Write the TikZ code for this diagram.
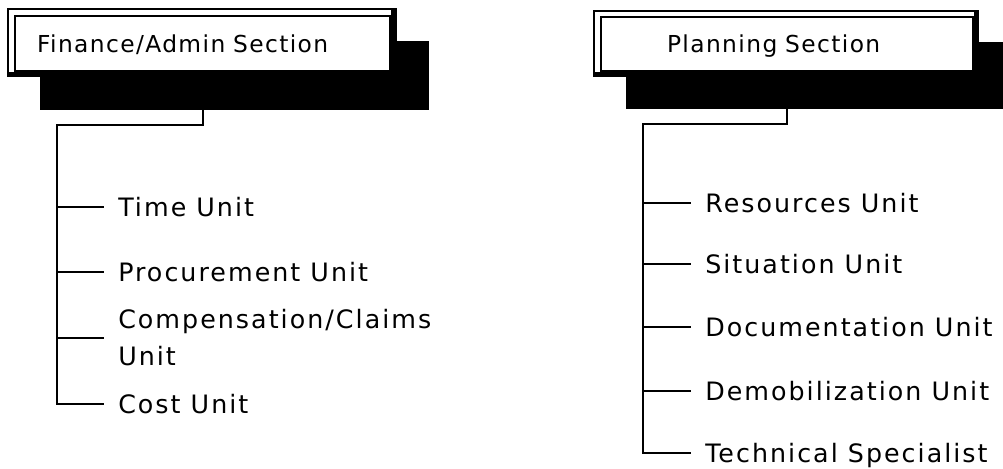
\documentclass[tikz,border=0pt]{standalone}
\usepackage{fontspec}
\newfontfamily\unitfont[LetterSpace=8]{DejaVu Sans}
\newfontfamily\titlefont[LetterSpace=6]{DejaVu Sans}
\usetikzlibrary{calc,backgrounds}

\begin{document}
\begin{tikzpicture}
[x=0.75pt,y=-0.75pt,
 section/.style={draw=black,fill=white,line width=1.4pt,inner ysep=0pt,text height=12.8pt,text depth=0pt,align=left,font=\titlefont\fontsize{17.5pt}{21pt}\selectfont},
 unitbase/.style={anchor=west,inner xsep=10.5pt,inner ysep=0pt,font=\unitfont\fontsize{19pt}{27.75pt}\selectfont},
 unit/.style={unitbase,text height=13.85pt,text depth=0pt},
 line/.style={line width=1.5pt}]
\useasboundingbox (0,0) rectangle (1003,468);

\node[section,minimum width=281.25pt,minimum height=41.25pt,inner xsep=16.5pt,text width=248.25pt] (fin) at (202.5,43.5) {Finance/Admin Section};
\node[section,minimum width=279pt,minimum height=40.5pt,inner xsep=49.5pt,text width=180pt] (plan) at (787,44) {Planning Section};

% shadows and frames
\begin{scope}[on background layer]
\fill ($(fin.north west)+(26,26)$) rectangle ($(fin.south east)+(38,38)$);
\fill ($(fin.north west)+(-7,-7)$) rectangle ($(fin.south east)+(6,5)$);
\fill[white] ($(fin.north west)+(-5.2,-5.2)$) rectangle (fin.south east);
\fill ($(plan.north west)+(26,26)$) rectangle ($(plan.south east)+(38,37)$);
\fill ($(plan.north west)+(-7,-6)$) rectangle ($(plan.south east)+(5,5)$);
\fill[white] ($(plan.north west)+(-5.2,-4.2)$) rectangle (plan.south east);
\end{scope}

\node[unit] (time) at (104,207) {Time Unit};
\node[unit] (procure) at (104,272) {Procurement Unit};
\node[unitbase,align=left] (comp) at (104,338) {Compensation/Claims\\Unit};
\node[unit] (cost) at (104,404) {Cost Unit};

\node[unit] (res) at (691,203) {Resources Unit};
\node[unit] (sit) at (691,264) {Situation Unit};
\node[unit] (doc) at (691,327) {Documentation Unit};
\node[unit] (demob) at (691,391) {Demobilization Unit};
\node[unit] (tech) at (691,453) {Technical Specialist};

\coordinate (finspine) at (57,125);
\coordinate (planspine) at (643,124);

\draw [line] (fin.south) |- (finspine) |- (cost.west);
\draw [line] (finspine |- time.west) -- (time.west);
\draw [line] (finspine |- procure.west) -- (procure.west);
\draw [line] (finspine |- comp.west) -- (comp.west);

\draw [line] (plan.south) |- (planspine) |- (tech.west);
\draw [line] (planspine |- res.west) -- (res.west);
\draw [line] (planspine |- sit.west) -- (sit.west);
\draw [line] (planspine |- doc.west) -- (doc.west);
\draw [line] (planspine |- demob.west) -- (demob.west);
\end{tikzpicture}
\end{document}
